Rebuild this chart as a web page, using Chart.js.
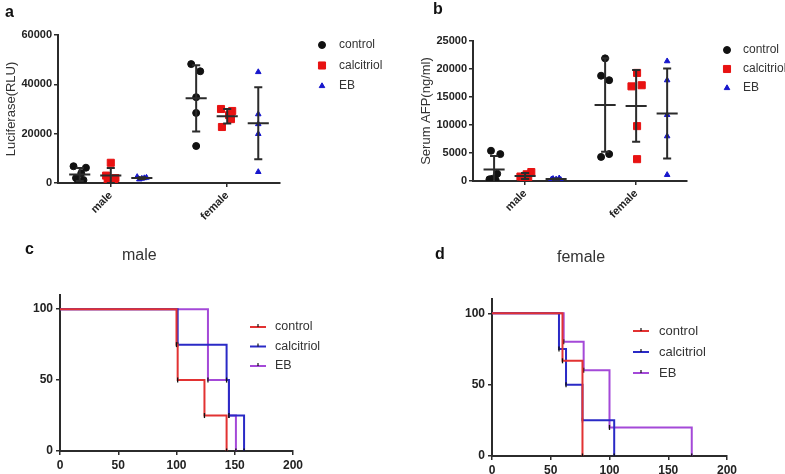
<!DOCTYPE html>
<html>
<head>
<meta charset="utf-8">
<script src="https://cdn.jsdelivr.net/npm/chart.js@4.4.1/dist/chart.umd.min.js"></script>
<style>
  html, body { margin: 0; padding: 0; background: #fff; }
  #fig { position: relative; width: 785px; height: 474px; overflow: hidden; font-family: "Liberation Sans", Arial, sans-serif; }
  #fig canvas { position: absolute; }
  .lbl { position: absolute; line-height: 1; white-space: nowrap; }
  .letter { font-weight: bold; font-size: 16px; color: #111; }
  .title { font-size: 16px; color: #333; }
</style>
</head>
<body>
<div id="fig">
  <canvas id="chartA" width="390" height="240" style="left:0;top:0"></canvas>
  <canvas id="chartB" width="395" height="240" style="left:390px;top:0"></canvas>
  <canvas id="chartC" width="390" height="234" style="left:0;top:240px"></canvas>
  <canvas id="chartD" width="395" height="234" style="left:390px;top:240px"></canvas>
  <div class="lbl letter" style="left:5px;top:4px">a</div>
  <div class="lbl letter" style="left:433px;top:1px">b</div>
  <div class="lbl letter" style="left:25px;top:241px">c</div>
  <div class="lbl letter" style="left:435px;top:246px">d</div>
  <div class="lbl title" style="left:122px;top:247px">male</div>
  <div class="lbl title" style="left:557px;top:249px">female</div>
</div>
<script>
const groups = ["male", "female"];
const treatments = ["control", "calcitriol", "EB"];

// ---- a: luciferase (RLU) ----
const lucMaleControl = [6800, 6200, 4000, 2000, 1200, 600];
const lucMaleCalcitriol = [8200, 3000, 2000, 1000, 800];
const lucMaleEB = [2500, 2200, 1800, 1500, 2000];
const lucFemaleControl = [48200, 45300, 34800, 28400, 15000];
const lucFemaleCalcitriol = [30000, 29200, 27500, 25900, 22700];
const lucFemaleEB = [45000, 27900, 23900, 19900, 4500];
const lucTicks = [0, 20000, 40000, 60000];

// ---- b: serum AFP (ng/ml) ----
const afpMaleControl = [5400, 4800, 1300, 300, 200, 400];
const afpMaleCalcitriol = [1600, 1200, 800, 500, 300];
const afpMaleEB = [500, 400, 300, 200, 300];
const afpFemaleControl = [21900, 18800, 18000, 4800, 4300];
const afpFemaleCalcitriol = [19300, 17100, 16900, 9800, 3900];
const afpFemaleEB = [21400, 18000, 11800, 8000, 1100];
const afpTicks = [0, 5000, 10000, 15000, 20000, 25000];

// ---- c, d: survival (%) vs days ----
const maleControlDays = [0, 100, 101, 124, 143];
const maleControlSurv = [100, 75, 50, 25, 0];
const maleCalcitriolDays = [0, 101, 143, 145, 158];
const maleCalcitriolSurv = [100, 75, 50, 25, 0];
const maleEBDays = [0, 127, 145, 151];
const maleEBSurv = [100, 50, 25, 0];
const femaleControlDays = [0, 60, 77];
const femaleControlSurv = [100, 66.7, 0];
const femaleCalcitriolDays = [0, 57, 63, 77, 104];
const femaleCalcitriolSurv = [100, 75, 50, 25, 0];
const femaleEBDays = [0, 61, 78, 100, 170];
const femaleEBSurv = [100, 80, 60, 20, 0];
const dayTicks = [0, 50, 100, 150, 200];
const survTicks = [0, 50, 100];

// horizontal scatter of the dots inside each column (male ctl, cal, EB, female ctl, cal, EB)
const lucSpread = [
  [-0.2, 0.2, 0.05, -0.12, 0.12, -0.05], [0, -0.15, 0.15, -0.1, 0.1], [-0.15, 0.15, 0, -0.08, 0.08],
  [-0.16, 0.13, 0, 0, 0], [-0.2, 0.16, 0.06, 0.12, -0.17], [0, 0, 0, 0, 0]
];
const afpSpread = [
  [-0.1, 0.2, 0.1, -0.15, 0.05, -0.05], [0.2, 0.05, -0.15, 0.1, -0.05], [0.1, -0.1, 0, 0.15, -0.15],
  [0, -0.13, 0.13, 0.13, -0.13], [0.03, 0.18, -0.15, 0.03, 0.03], [0, 0, 0, 0, 0]
];

const FONT = "'Liberation Sans', Arial, Helvetica, sans-serif";
const INK = "#2b2b2b";
const dotColors = ["#111111", "#e81212", "#1616cc"];
const dotStyles = ["circle", "rect", "triangle"];
const dotRadius = [3.5, 5, 3.2];
const kmColors = ["#e23232", "#2a2ac6", "#a449d8"];

const sideLegend = {
  id: "sideLegend",
  afterDraw(chart, args, opts) {
    const ctx = chart.ctx;
    ctx.save();
    ctx.font = opts.size + "px " + FONT;
    ctx.textBaseline = "middle";
    ctx.textAlign = "left";
    chart.data.datasets.forEach((ds) => {
      const row = treatments.indexOf(ds.label);
      if (row < 0) return;
      const y = opts.y + row * opts.gap;
      if (opts.kind === "line") {
        ctx.strokeStyle = ds.borderColor;
        ctx.lineWidth = 2;
        ctx.beginPath();
        ctx.moveTo(opts.x, y);
        ctx.lineTo(opts.x + 16, y);
        ctx.stroke();
        ctx.strokeStyle = "#111";
        ctx.lineWidth = 1.2;
        ctx.beginPath();
        ctx.moveTo(opts.x + 8, y - 3);
        ctx.lineTo(opts.x + 8, y);
        ctx.stroke();
      } else {
        ctx.fillStyle = ds.backgroundColor;
        ctx.strokeStyle = ds.borderColor;
        ctx.lineWidth = 1;
        Chart.helpers.drawPoint(ctx, { pointStyle: ds.pointStyle, radius: ds.pointRadius, rotation: 0, borderWidth: 1 }, opts.x, y);
      }
      ctx.fillStyle = "#333";
      ctx.fillText(ds.label, opts.textX, y);
    });
    ctx.restore();
  }
};

function meanSd(vals) {
  const m = vals.reduce((a, b) => a + b, 0) / vals.length;
  const sd = Math.sqrt(vals.reduce((a, v) => a + (v - m) * (v - m), 0) / (vals.length - 1));
  return [m, sd];
}

function dotDatasets(values, spread, centers) {
  return treatments.map((t, ti) => ({
    label: t,
    data: groups.flatMap((g, gi) =>
      values[gi][ti].map((v, k) => ({ x: centers[gi] + ti - 1 + spread[gi * 3 + ti][k], y: v }))),
    pointStyle: dotStyles[ti],
    pointRadius: dotRadius[ti],
    backgroundColor: dotColors[ti],
    borderColor: dotColors[ti],
    borderWidth: 1
  }));
}

function errorBars(values, centers) {
  const pts = [];
  const gap = { x: 0, y: null };
  groups.forEach((g, gi) => treatments.forEach((t, ti) => {
    const [m, sd] = meanSd(values[gi][ti]);
    const x = centers[gi] + ti - 1;
    pts.push({ x: x - 0.34, y: m }, { x: x + 0.34, y: m }, gap,
      { x: x, y: m - sd }, { x: x, y: m + sd }, gap,
      { x: x - 0.13, y: m + sd }, { x: x + 0.13, y: m + sd }, gap,
      { x: x - 0.13, y: m - sd }, { x: x + 0.13, y: m - sd }, gap);
  }));
  return {
    type: "line",
    label: "mean ± SD",
    data: pts,
    borderColor: INK,
    borderWidth: 2,
    pointRadius: 0,
    spanGaps: false
  };
}

const tickFont = (size) => ({ family: FONT, size: size, weight: "bold" });
const grid = { drawOnChartArea: false, tickLength: 4, color: INK, lineWidth: 1.5 };
const border = { color: INK, width: 2 };

function dotOptions(o) {
  return {
    responsive: false, animation: false, devicePixelRatio: 1, events: [],
    layout: { padding: o.padding },
    scales: {
      x: {
        type: "linear", min: o.xMin, max: o.xMax,
        afterBuildTicks: (s) => { s.ticks = o.centers.map((v) => ({ value: v })); },
        ticks: { callback: (v, i) => groups[i], minRotation: 45, maxRotation: 45, font: tickFont(11), color: "#222", padding: 2 },
        grid: grid, border: border,
        afterFit: (s) => { s.height = 50; }
      },
      y: {
        type: "linear", min: 0, max: o.ticks[o.ticks.length - 1],
        afterBuildTicks: (s) => { s.ticks = o.ticks.map((v) => ({ value: v })); },
        ticks: { callback: (v) => String(v), font: tickFont(11), color: "#222", padding: 2 },
        grid: grid, border: border,
        title: { display: true, text: o.title, font: { family: FONT, size: 13 }, color: "#333" },
        afterFit: (s) => { s.width = 58; }
      }
    },
    plugins: { legend: { display: false }, tooltip: { enabled: false }, sideLegend: o.legend }
  };
}

function kmDatasets(days, surv) {
  return treatments.map((t, ti) => ({
    label: t,
    data: days[ti].map((d, k) => ({ x: d, y: surv[ti][k] })),
    stepped: true,
    borderColor: kmColors[ti],
    borderWidth: 2,
    fill: false,
    pointStyle: "line",
    rotation: 90,
    pointRadius: (ctx) => (ctx.dataIndex === 0 ? 0 : 2.5),
    pointBorderColor: "#111",
    pointBorderWidth: 1.3
  }));
}

function kmOptions(o) {
  return {
    responsive: false, animation: false, devicePixelRatio: 1, events: [],
    layout: { padding: o.padding },
    scales: {
      x: {
        type: "linear", min: 0, max: 200,
        afterBuildTicks: (s) => { s.ticks = dayTicks.map((v) => ({ value: v })); },
        ticks: { font: tickFont(12), color: "#222", padding: 3, maxRotation: 0 },
        grid: grid, border: border,
        afterFit: (s) => { s.height = o.xHeight; }
      },
      y: {
        type: "linear", min: 0, max: 110,
        afterBuildTicks: (s) => { s.ticks = survTicks.map((v) => ({ value: v })); },
        ticks: { font: tickFont(12), color: "#222", padding: 3 },
        grid: grid, border: border,
        afterFit: (s) => { s.width = 60; }
      }
    },
    plugins: { legend: { display: false }, tooltip: { enabled: false }, sideLegend: o.legend }
  };
}

// ===== a: Luciferase =====
const lucValues = [[lucMaleControl, lucMaleCalcitriol, lucMaleEB], [lucFemaleControl, lucFemaleCalcitriol, lucFemaleEB]];
const centersA = [0, 3.75];
new Chart(document.getElementById("chartA"), {
  type: "scatter",
  data: { datasets: [errorBars(lucValues, centersA), ...dotDatasets(lucValues, lucSpread, centersA)] },
  options: dotOptions({
    xMin: -1.7, xMax: 5.45, centers: centersA, ticks: lucTicks, title: "Luciferase(RLU)",
    padding: { left: 0, top: 35, right: 110, bottom: 7 },
    legend: { x: 322, textX: 339, y: 45, gap: 20.5, size: 12 }
  }),
  plugins: [sideLegend]
});

// ===== b: Serum AFP =====
const afpValues = [[afpMaleControl, afpMaleCalcitriol, afpMaleEB], [afpFemaleControl, afpFemaleCalcitriol, afpFemaleEB]];
const centersB = [0, 3.58];
new Chart(document.getElementById("chartB"), {
  type: "scatter",
  data: { datasets: [errorBars(afpValues, centersB), ...dotDatasets(afpValues, afpSpread, centersB)] },
  options: dotOptions({
    xMin: -1.68, xMax: 5.22, centers: centersB, ticks: afpTicks, title: "Serum AFP(ng/ml)",
    padding: { left: 25, top: 41, right: 98, bottom: 9 },
    legend: { x: 337, textX: 353, y: 50, gap: 19, size: 12 }
  }),
  plugins: [sideLegend]
});

// ===== c: male survival =====
new Chart(document.getElementById("chartC"), {
  type: "line",
  data: { datasets: kmDatasets([maleControlDays, maleCalcitriolDays, maleEBDays], [maleControlSurv, maleCalcitriolSurv, maleEBSurv]) },
  options: kmOptions({
    padding: { left: 0, top: 55, right: 97, bottom: 0 }, xHeight: 23,
    legend: { kind: "line", x: 250, textX: 275, y: 87, gap: 19.5, size: 12.5 }
  }),
  plugins: [sideLegend]
});

// ===== d: female survival =====
new Chart(document.getElementById("chartD"), {
  type: "line",
  data: { datasets: kmDatasets([femaleControlDays, femaleCalcitriolDays, femaleEBDays], [femaleControlSurv, femaleCalcitriolSurv, femaleEBSurv]) },
  options: kmOptions({
    padding: { left: 42, top: 59, right: 58, bottom: 0 }, xHeight: 18,
    legend: { kind: "line", x: 243, textX: 269, y: 91, gap: 21, size: 13 }
  }),
  plugins: [sideLegend]
});
</script>
</body>
</html>
